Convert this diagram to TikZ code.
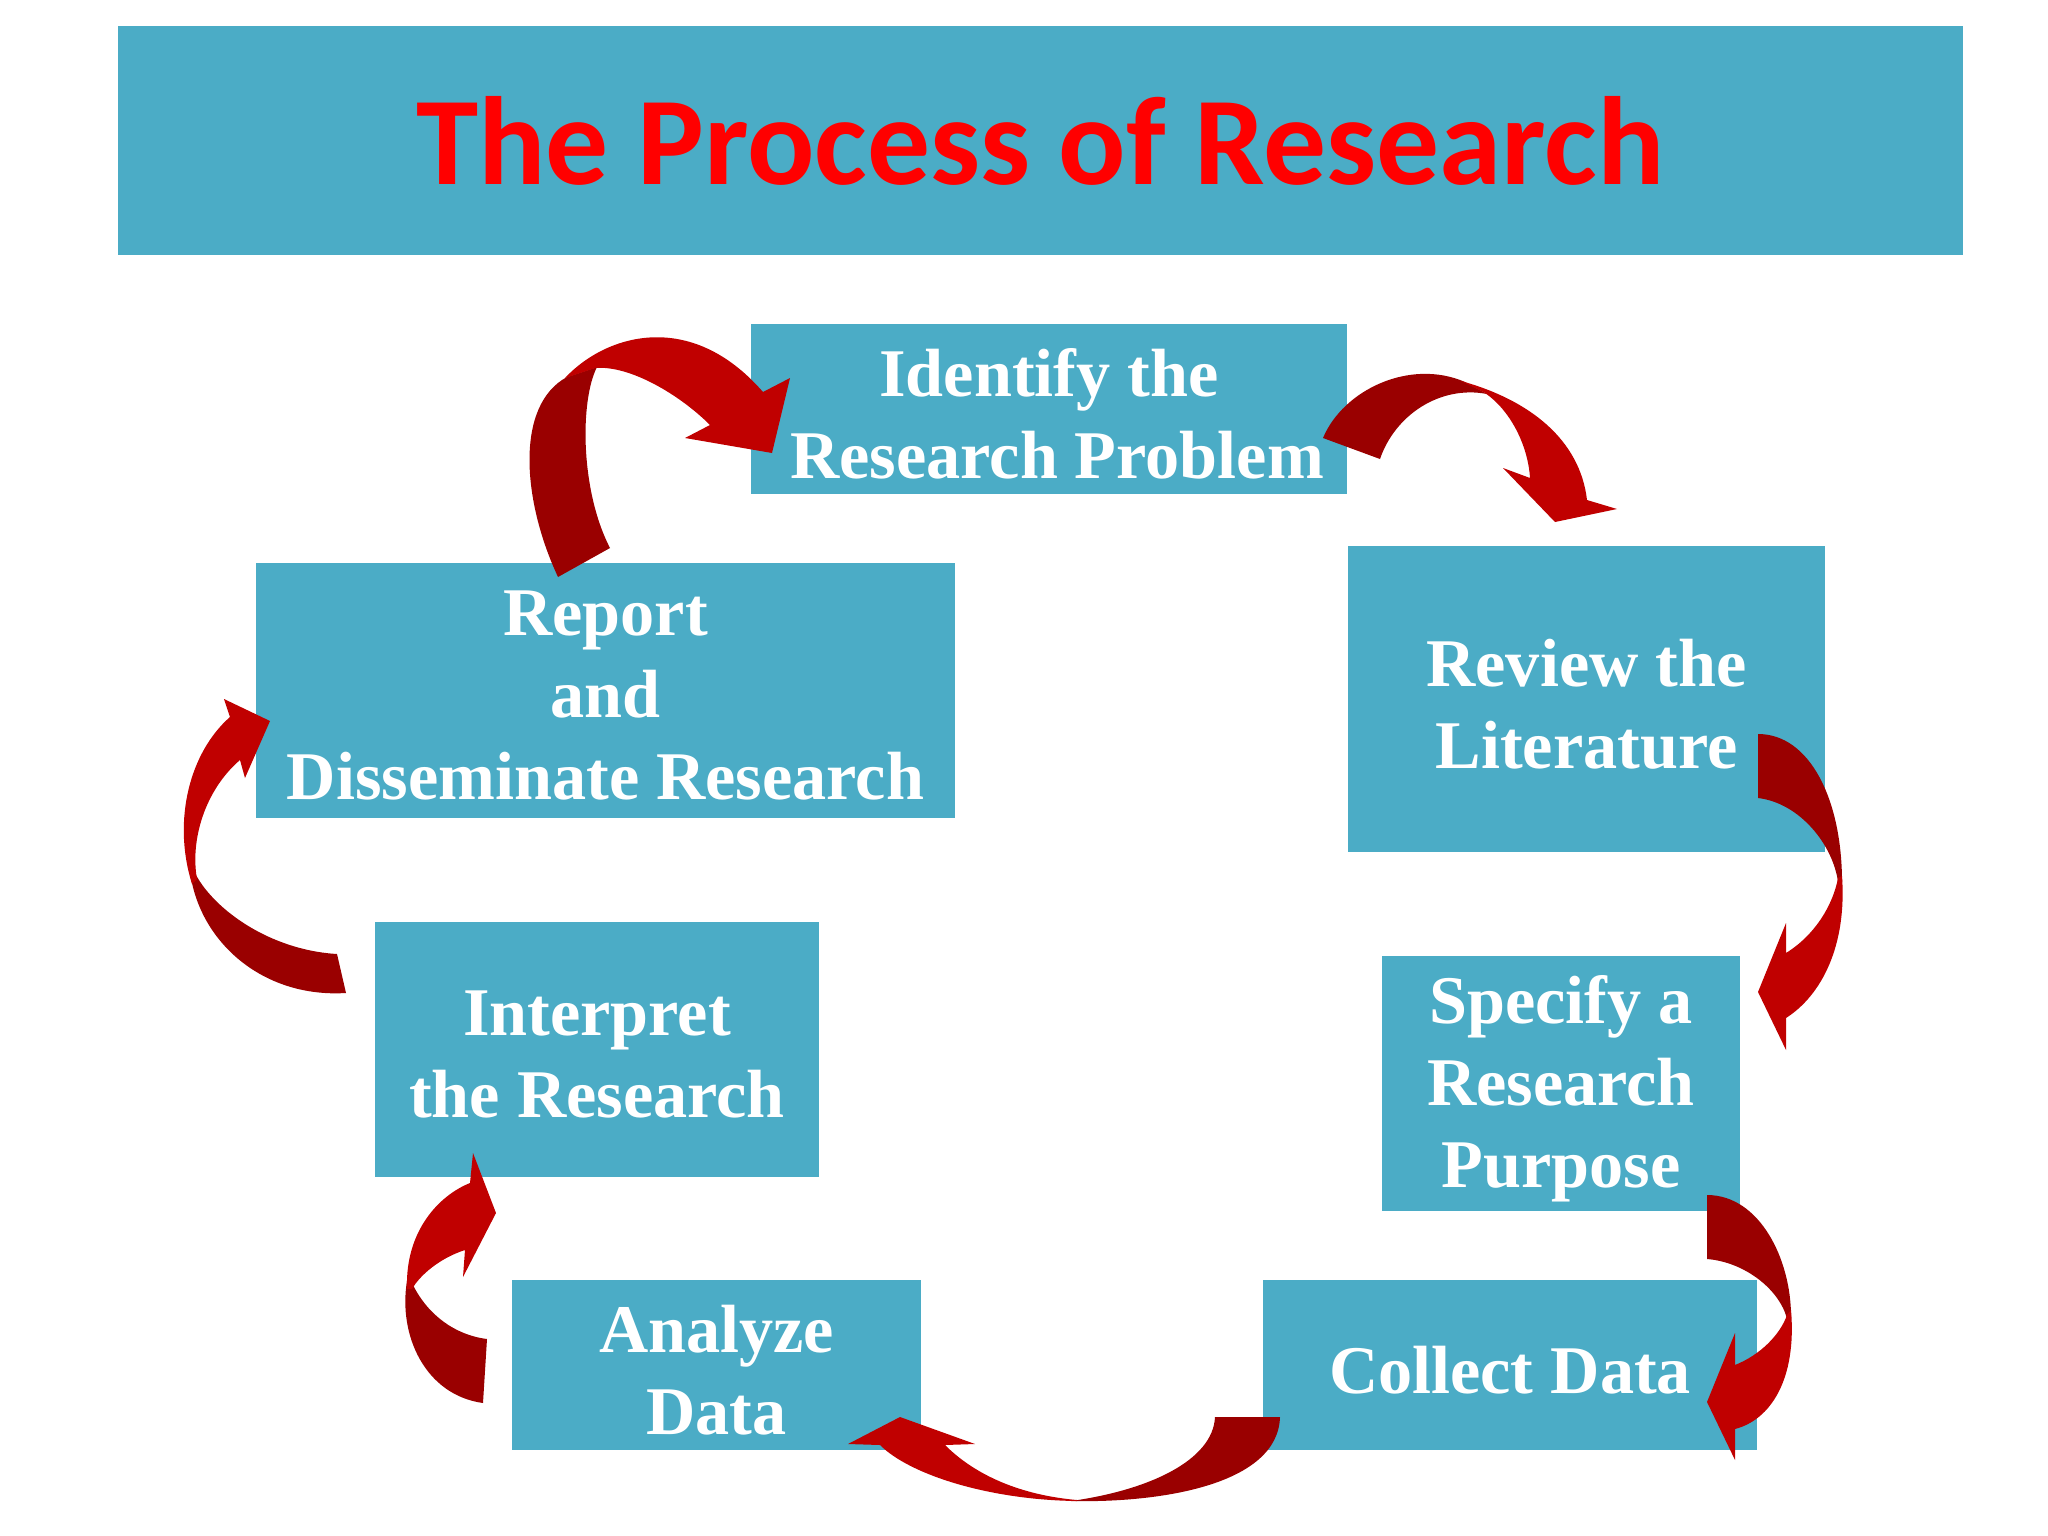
\documentclass[tikz,border=0pt]{standalone}
\usepackage{fontspec}
\setmainfont{Liberation Serif}
\newfontfamily\titlefont{Carlito}
\definecolor{boxblue}{HTML}{4BACC6}
\definecolor{arrdark}{HTML}{9A0000}
\definecolor{arrlight}{HTML}{C00000}
\definecolor{titlered}{HTML}{FF0000}
\begin{document}
\begin{tikzpicture}[x=0.01cm,y=-0.01cm,
  boxfill/.style={fill=boxblue, draw=none, inner sep=0pt},
  boxtext/.style={inner sep=0pt, align=center, text=white,
    font=\fontsize{19.4}{23.3}\selectfont\bfseries},
  dark/.style={fill=arrdark},
  light/.style={fill=arrlight}]
\useasboundingbox (0,0) rectangle (2048,1536);
\fill[white] (0,0) rectangle (2048,1536);

% title
\node[boxfill, minimum width=18.43cm, minimum height=2.29cm,
  text=titlered, font=\titlefont\fontsize{35.7}{43}\selectfont\bfseries]
  (title) at (1040.5,140.5) {The Process of Research};

% boxes
\node[boxfill, minimum width=5.96cm, minimum height=1.70cm] (identify) at (1049,409) {};
\node[boxfill, minimum width=4.77cm, minimum height=3.06cm] (review) at (1586.5,699) {};
\node[boxfill, minimum width=6.99cm, minimum height=2.55cm] (report) at (605.5,690.5) {};
\node[boxfill, minimum width=4.44cm, minimum height=2.55cm] (interpret) at (597,1049.5) {};
\node[boxfill, minimum width=3.58cm, minimum height=2.55cm] (specify) at (1561,1083.5) {};
\node[boxfill, minimum width=4.09cm, minimum height=1.70cm] (analyze) at (716.5,1365) {};
\node[boxfill, minimum width=4.94cm, minimum height=1.70cm] (collect) at (1510,1365) {};

\node[boxtext] (identifyT) at ([yshift=-0.05cm]identify.center) {Identify the\\\hspace*{0.16cm}Research Problem};
\node[boxtext] (reviewT) at ([yshift=-0.05cm]review.center) {Review the\\Literature};
\node[boxtext] (reportT) at ([yshift=-0.05cm]report.center) {Report\\and\\Disseminate Research};
\node[boxtext] (interpretT) at ([yshift=-0.05cm]interpret.center) {Interpret\\the Research};
\node[boxtext] (specifyT) at ([yshift=-0.05cm]specify.center) {Specify a\\Research\\Purpose};
\node[boxtext] (analyzeT) at ([yshift=-0.05cm]analyze.center) {Analyze\\Data};
\node[boxtext] (collectT) at ([yshift=-0.05cm]collect.center) {Collect Data};

% arrow 1: report -> identify
\fill[dark] (558,577) .. controls (522,500) and (515,405) .. (567,377)
  -- (597,367) .. controls (580,400) and (580,490) .. (610,548) -- cycle;
\fill[light] (565,378) .. controls (605,335) and (690,308) .. (763,392)
  -- (790,378) -- (772,453) -- (685,438) -- (710,425)
  .. controls (680,395) and (630,365) .. (595,368) -- cycle;

% arrow 2: identify -> review
\fill[dark] (1323,438) .. controls (1343,390) and (1410,358) .. (1465,382)
  -- (1487,394) .. controls (1440,385) and (1395,415) .. (1380,459) -- cycle;
\fill[light] (1461,381) .. controls (1530,400) and (1580,440) .. (1587,500)
  -- (1617,509) -- (1555,522) -- (1503,468) -- (1530,478)
  .. controls (1528,445) and (1510,410) .. (1485,393) -- cycle;

% arrow 3: review -> specify
\fill[dark] (1758,734) .. controls (1810,734) and (1842,800) .. (1842,882)
  -- (1838,882) .. controls (1833,845) and (1800,803) .. (1758,798) -- cycle;
\fill[light] (1842,876) .. controls (1847,945) and (1822,995) .. (1786,1018)
  -- (1786,1050) -- (1758,992) -- (1786,923) -- (1786,953)
  .. controls (1815,935) and (1833,905) .. (1838,878) -- cycle;

% arrow 4: specify -> collect
\fill[dark] (1707,1195) .. controls (1760,1195) and (1791,1260) .. (1791,1316)
  -- (1787,1319) .. controls (1780,1290) and (1745,1262) .. (1707,1259) -- cycle;
\fill[light] (1791,1310) .. controls (1797,1380) and (1770,1420) .. (1735,1429)
  -- (1735,1460) -- (1707,1402) -- (1735,1333) -- (1735,1365)
  .. controls (1760,1355) and (1780,1335) .. (1787,1315) -- cycle;

% arrow 5: collect -> analyze
\fill[dark] (1280,1417) .. controls (1278,1485) and (1160,1503) .. (1071,1501)
  -- (1071,1501) .. controls (1150,1490) and (1213,1460) .. (1215,1417) -- cycle;
\fill[light] (1077,1501) .. controls (990,1500) and (910,1475) .. (880,1445)
  -- (848,1444) -- (900,1417) -- (975,1444) -- (945,1445)
  .. controls (975,1475) and (1020,1495) .. (1077,1500) -- cycle;

% arrow 6: analyze -> interpret
\fill[dark] (483,1403) .. controls (425,1395) and (398,1335) .. (407,1281)
  -- (413,1285) .. controls (428,1315) and (455,1335) .. (487,1339) -- cycle;
\fill[light] (407,1289) .. controls (405,1230) and (440,1195) .. (470,1183)
  -- (473,1153) -- (496,1213) -- (463,1277) -- (465,1250)
  .. controls (440,1258) and (420,1275) .. (412,1289) -- cycle;

% arrow 7: interpret -> report
\fill[dark] (346,993) .. controls (265,998) and (203,945) .. (191,878)
  -- (196,875) .. controls (215,910) and (270,950) .. (337,954) -- cycle;
\fill[light] (192,884) .. controls (172,820) and (190,752) .. (230,717)
  -- (224,699) -- (270,721) -- (245,778) -- (240,760)
  .. controls (205,790) and (190,840) .. (197,879) -- cycle;
\end{tikzpicture}
\end{document}
